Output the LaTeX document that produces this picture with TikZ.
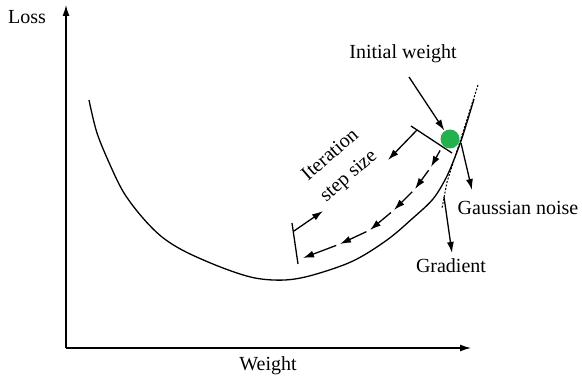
\documentclass[tikz,border=0pt]{standalone}
\usepackage{fontspec}
\setmainfont{Liberation Serif}
\usetikzlibrary{positioning,calc,arrows.meta}
\definecolor{dotgreen}{RGB}{34,177,76}

\begin{document}
\begin{tikzpicture}[x=1pt,y=-1pt,line width=1.3pt,
	lbl/.style={font=\fontsize{20}{28}\selectfont,inner sep=0pt},
	arr/.style={-{Latex[length=11pt,width=7pt]}}]
		\useasboundingbox (0,0) rectangle (582,382);
		% axes
		\coordinate (o) at (66,348);
		\coordinate (ytop) at (66,5);
		\coordinate (xend) at (471,348);
		\draw[arr] (o) -- (ytop);
		\draw[arr] (o) -- (xend);
		\node[lbl] (loss) at (27,17) {Loss};
		\node[lbl] (weight) at (268,366) {Weight};
		% loss curve
		\draw plot[smooth,tension=0.55] coordinates {(89,100) (97,133) (111,167) (124,193) (142,217) (162,237)
			(186,252) (223,268) (255,278) (285,280) (313,275) (353,261) (387,240) (413,218) (433,199)
			(446,178) (455,157) (463,135) (474,99)};
		% tangent and initial weight
		\coordinate (t1) at (478,85);
		\coordinate (t2) at (447,182);
		\coordinate (t3) at (442,208);
		\draw[line width=1pt,dash pattern=on 2pt off 1.6pt] (t1) -- (t2) -- (t3);
		\node[circle,fill=dotgreen,minimum size=19pt,inner sep=0pt] (w0) at (450,139) {};
		\node[lbl] (init) at (403,54) {Initial weight};
		\coordinate (a0) at (409,77);
		\draw[arr] (a0) -- (w0);
		% noise and gradient
		\node[lbl] (noise) at (518,208) {Gaussian noise};
		\node[lbl] (grad) at (451,266) {Gradient};
		\coordinate (n0) at (461,143);
		\coordinate (n1) at (472,190);
		\draw[arr] (n0) -- (n1);
		\coordinate (g0) at (444,197);
		\coordinate (g1) at (452,253);
		\draw[arr] (g0) -- (g1);
		% descent steps
		\coordinate (q0) at (442,147);
		\coordinate (q1) at (431,167);
		\coordinate (q2) at (415,189);
		\coordinate (q3) at (394,210);
		\coordinate (q4) at (370,230);
		\coordinate (q5) at (340,244);
		\coordinate (q6) at (303,258);
		\foreach \a/\b in {q0/q1,q1/q2,q2/q3,q3/q4,q4/q5,q5/q6}
			\draw[arr,shorten <=4pt] (\a) -- (\b);
		% step size marker
		\coordinate (s1) at (411,126);
		\coordinate (s2) at (452,153);
		\coordinate (s3) at (292,223);
		\coordinate (s4) at (298,264);
		\draw (s1) -- (s2);
		\draw (s3) -- (s4);
		\coordinate (m1) at (417,130);
		\coordinate (m2) at (388,160);
		\coordinate (m3) at (294,231);
		\coordinate (m4) at (323,211);
		\draw[arr] (m1) -- (m2);
		\draw[arr] (m3) -- (m4);
		\node[lbl,align=center,rotate=41] (step) at (340,166) {Iteration\\step size};
	\end{tikzpicture}
\end{document}
